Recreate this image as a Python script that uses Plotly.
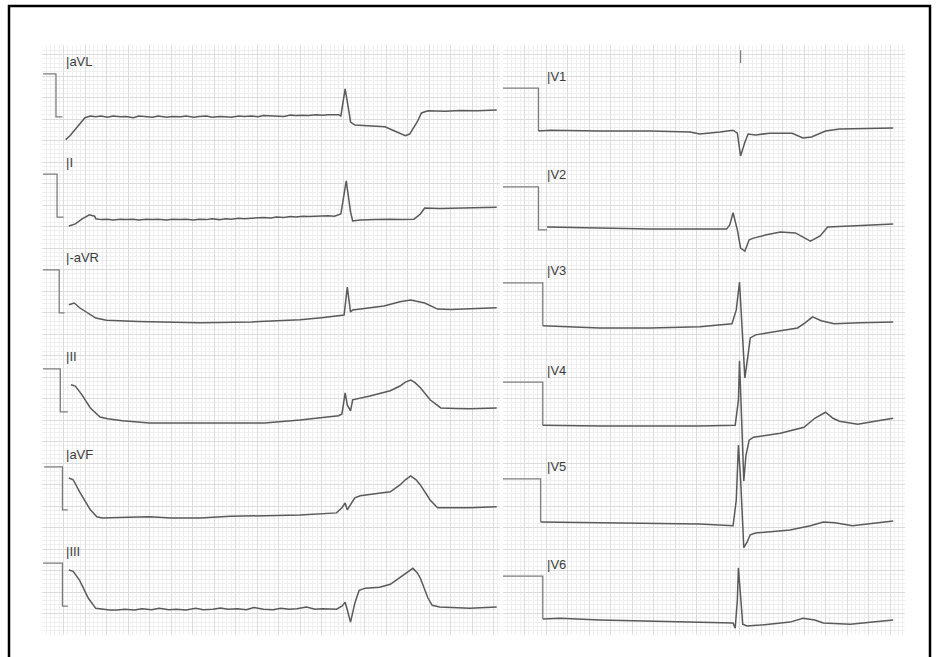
import plotly.graph_objects as go

# ---------------- data (time in s, amplitude in mV) ----------------
LEFT_LEADS = ["aVL", "I", "-aVR", "II", "aVF", "III"]
RIGHT_LEADS = ["V1", "V2", "V3", "V4", "V5", "V6"]

# calibration pulses (1 mV)
CAL_V = [1, 1, 0, 0]
CAL_T = {
    "aVL": [0.01, 0.13, 0.13, 0.19],
    "I": [0.01, 0.14, 0.14, 0.20],
    "-aVR": [0.01, 0.16, 0.16, 0.21],
    "II": [0.01, 0.17, 0.17, 0.24],
    "aVF": [0.02, 0.19, 0.19, 0.24],
    "III": [0.01, 0.19, 0.19, 0.24],
    "V1": [0.0, 0.33, 0.33, 0.33],
    "V2": [0.0, 0.33, 0.33, 0.41],
    "V3": [0.0, 0.37, 0.37, 0.37],
    "V4": [0.0, 0.37, 0.37, 0.37],
    "V5": [0.0, 0.35, 0.35, 0.35],
    "V6": [0.0, 0.37, 0.37, 0.37],
}

AVL_T = [0.22, 0.26, 0.32, 0.40, 0.45,
         0.50, 0.55, 0.61, 0.66, 0.73, 0.78, 0.85, 0.90, 0.97, 1.03, 1.08, 1.16, 1.21, 1.29,
         1.34, 1.41, 1.46, 1.53, 1.58, 1.65, 1.71, 1.76, 1.83, 1.88, 1.95, 2.01, 2.06, 2.13,
         2.18, 2.25, 2.31, 2.36, 2.43, 2.48, 2.55, 2.61, 2.66, 2.72,
         2.76, 2.78, 2.82, 2.86, 2.87, 2.91, 3.00, 3.10, 3.19, 3.28, 3.38, 3.42, 3.49, 3.53,
         3.59, 3.75, 3.89, 4.05, 4.23]
AVL_V = [-0.53, -0.44, -0.26, -0.02, 0.02,
         0.00, 0.02, -0.01, 0.02, 0.00, 0.01, -0.02, 0.02, 0.00, -0.01, 0.02, -0.01, 0.01, 0.00,
         0.02, -0.01, 0.01, 0.02, -0.01, 0.01, 0.00, -0.01, 0.02, 0.01, 0.02, 0.00, 0.03, 0.02,
         0.03, 0.01, 0.04, 0.03, 0.04, 0.03, 0.05, 0.04, 0.05, 0.05,
         0.05, 0.02, 0.65, 0.05, -0.12, -0.19, -0.20, -0.22, -0.23, -0.33, -0.44, -0.40, -0.12, 0.09,
         0.14, 0.13, 0.15, 0.14, 0.16]

I_T = [0.25, 0.31, 0.37, 0.44, 0.49,
       0.50, 0.55, 0.61, 0.66, 0.73, 0.78, 0.85, 0.90, 0.97, 1.03, 1.08, 1.16, 1.21, 1.29,
       1.34, 1.41, 1.46, 1.53, 1.58, 1.65, 1.71, 1.76, 1.83, 1.88, 1.95, 2.01, 2.06, 2.13,
       2.18, 2.25, 2.31, 2.36, 2.43, 2.48, 2.55, 2.61, 2.66, 2.72,
       2.78, 2.83, 2.87, 2.89, 2.96, 3.10, 3.24, 3.35, 3.46, 3.52, 3.56, 3.70, 3.89, 4.05, 4.23]
I_V = [-0.21, -0.16, -0.05, 0.05, 0.02,
       -0.04, -0.06, -0.05, -0.07, -0.05, -0.06, -0.05, -0.07, -0.05, -0.06, -0.05, -0.07, -0.05, -0.06,
       -0.05, -0.07, -0.05, -0.06, -0.04, -0.06, -0.04, -0.05, -0.03, -0.04, -0.03, -0.03, -0.01, -0.02,
       0.00, -0.01, 0.01, 0.00, 0.02, 0.01, 0.02, 0.02, 0.03, 0.02,
       0.07, 0.84, 0.12, -0.09, -0.07, -0.06, -0.05, -0.06, -0.05, 0.07, 0.21, 0.20, 0.21, 0.22, 0.23]

AVR_T = [0.25, 0.30, 0.35, 0.42, 0.50, 0.60, 0.73, 0.90, 1.12, 1.47, 1.95, 2.20, 2.40, 2.60,
         2.76, 2.81, 2.84, 2.87, 2.89, 3.05, 3.18, 3.33, 3.43, 3.56, 3.68, 3.80, 3.98, 4.23]
AVR_V = [0.19, 0.23, 0.12, 0.00, -0.12, -0.17, -0.19, -0.20, -0.21, -0.23, -0.21, -0.19, -0.16, -0.11,
         -0.07, -0.05, 0.60, 0.02, 0.07, 0.12, 0.16, 0.26, 0.30, 0.23, 0.09, 0.08, 0.09, 0.12]

II_T = [0.27, 0.31, 0.37, 0.45, 0.54, 0.61, 0.75, 1.00, 1.50, 2.07, 2.40, 2.76, 2.79, 2.82, 2.84,
        2.87, 2.89, 2.93, 3.05, 3.24, 3.33, 3.38, 3.43, 3.47, 3.52, 3.61, 3.71, 3.85, 3.98, 4.23]
II_V = [0.63, 0.60, 0.40, 0.09, -0.12, -0.16, -0.21, -0.26, -0.26, -0.26, -0.19, -0.09, -0.05, 0.44, 0.16,
        0.02, 0.28, 0.30, 0.37, 0.49, 0.60, 0.69, 0.74, 0.68, 0.56, 0.28, 0.09, 0.08, 0.07, 0.09]

AVF_T = [0.25, 0.29, 0.35, 0.45, 0.51, 0.56, 0.80, 1.00, 1.20, 1.47, 1.75, 2.03, 2.40, 2.74, 2.79,
         2.82, 2.84, 2.87, 2.91, 2.96, 3.10, 3.24, 3.33, 3.38, 3.43, 3.48, 3.52, 3.61, 3.68, 3.85,
         3.98, 4.23]
AVF_V = [0.74, 0.70, 0.42, 0.00, -0.16, -0.19, -0.17, -0.16, -0.19, -0.19, -0.15, -0.14, -0.12, -0.07, 0.05,
         0.16, 0.00, 0.12, 0.28, 0.33, 0.37, 0.42, 0.58, 0.70, 0.79, 0.70, 0.58, 0.23, 0.05, 0.05,
         0.05, 0.07]

III_T = [0.25, 0.29, 0.35, 0.43, 0.50, 0.63,
         0.70, 0.77, 0.86, 0.93, 1.02, 1.09, 1.18, 1.25, 1.34, 1.43, 1.50, 1.59, 1.66, 1.73, 1.82,
         1.90, 1.97, 2.06, 2.15, 2.22, 2.30, 2.37, 2.46, 2.54, 2.61, 2.70,
         2.74, 2.79, 2.82, 2.84, 2.87, 2.91, 2.95, 3.01, 3.14, 3.24, 3.35, 3.40, 3.45, 3.49, 3.52,
         3.59, 3.63, 3.70, 3.85, 3.98, 4.23]
III_V = [0.84, 0.81, 0.60, 0.19, -0.05, -0.09,
         -0.09, -0.07, -0.09, -0.06, -0.08, -0.05, -0.08, -0.07, -0.09, -0.05, -0.08, -0.07, -0.04, -0.07, -0.06,
         -0.08, -0.03, -0.07, -0.08, -0.05, -0.07, -0.06, -0.02, -0.07, -0.06, -0.07,
         -0.07, 0.00, 0.09, -0.09, -0.37, 0.07, 0.37, 0.42, 0.44, 0.51, 0.70, 0.80, 0.88, 0.78, 0.65,
         0.19, 0.02, -0.02, -0.04, -0.05, -0.02]

V1_T = [0.33, 0.44, 0.90, 1.37, 1.74, 1.83, 2.02, 2.14, 2.18, 2.21, 2.25, 2.28, 2.35, 2.48, 2.69,
        2.79, 2.87, 3.00, 3.13, 3.63]
V1_V = [0.00, 0.02, 0.00, 0.00, -0.02, -0.07, -0.02, 0.02, -0.05, -0.58, -0.26, -0.07, -0.09, -0.05, -0.05,
        -0.16, -0.14, 0.00, 0.05, 0.07]

V2_T = [0.41, 0.90, 1.37, 2.08, 2.11, 2.14, 2.18, 2.21, 2.25, 2.29, 2.33, 2.44, 2.58, 2.72, 2.86,
        2.95, 3.02, 3.23, 3.63]
V2_V = [0.07, 0.05, 0.02, 0.02, 0.12, 0.40, 0.00, -0.42, -0.49, -0.23, -0.19, -0.12, -0.05, -0.07, -0.26,
        -0.14, 0.07, 0.09, 0.14]

V3_T = [0.37, 0.90, 1.37, 1.83, 2.13, 2.17, 2.20, 2.21, 2.23, 2.25, 2.28, 2.30, 2.35, 2.58, 2.74,
        2.81, 2.88, 2.96, 3.08, 3.32, 3.63]
V3_V = [0.00, -0.05, -0.05, -0.02, 0.05, 0.37, 1.02, 0.60, -0.33, -1.21, -0.67, -0.28, -0.21, -0.12, -0.05,
        0.07, 0.21, 0.12, 0.05, 0.07, 0.09]

V4_T = [0.37, 0.90, 1.83, 2.16, 2.19, 2.20, 2.22, 2.24, 2.26, 2.29, 2.33, 2.58, 2.80, 2.90, 3.00,
        3.07, 3.13, 3.30, 3.46, 3.63]
V4_V = [0.00, -0.02, -0.02, 0.00, 0.58, 1.50, 0.12, -1.30, -0.70, -0.35, -0.28, -0.19, -0.05, 0.16, 0.30,
        0.16, 0.09, 0.02, 0.09, 0.16]

V5_T = [0.35, 0.90, 1.83, 2.14, 2.17, 2.19, 2.21, 2.24, 2.27, 2.30, 2.35, 2.67, 2.86, 2.98, 3.09,
        3.25, 3.41, 3.63]
V5_V = [0.00, -0.02, -0.05, -0.09, 0.51, 1.79, 1.00, -0.60, -0.47, -0.30, -0.26, -0.19, -0.09, 0.00, -0.02,
        -0.09, -0.05, 0.02]

V6_T = [0.37, 0.53, 0.90, 1.83, 2.14, 2.16, 2.18, 2.19, 2.21, 2.23, 2.27, 2.39, 2.67, 2.79, 2.90,
        2.98, 3.23, 3.41, 3.63]
V6_V = [0.00, 0.02, -0.02, -0.07, -0.09, -0.21, 0.44, 1.19, 0.44, -0.12, -0.16, -0.14, -0.07, 0.02, -0.02,
        -0.09, -0.12, -0.07, -0.02]

TRACE_T = {"aVL": AVL_T, "I": I_T, "-aVR": AVR_T, "II": II_T, "aVF": AVF_T, "III": III_T,
           "V1": V1_T, "V2": V2_T, "V3": V3_T, "V4": V4_T, "V5": V5_T, "V6": V6_T}
TRACE_V = {"aVL": AVL_V, "I": I_V, "-aVR": AVR_V, "II": II_V, "aVF": AVF_V, "III": III_V,
           "V1": V1_V, "V2": V2_V, "V3": V3_V, "V4": V4_V, "V5": V5_V, "V6": V6_V}

# small timing mark at top of the chest-lead strip
MARK_T = [2.21, 2.21]
MARK_Y = [13.30, 13.60]

# ---------------- layout constants (positions, styles) ----------------
W, H = 936, 657
LEFT_OFFSET = [12.05, 9.72, 7.49, 5.19, 2.91, 0.67]   # baseline of each row
RIGHT_OFFSET = [11.72, 9.42, 7.19, 4.88, 2.63, 0.37]
LABEL_DY = 1.28
LEFT_LABEL_T = 0.20
RIGHT_LABEL_T = 0.39

TRACE_COLOR = "#5a5a5a"
CAL_COLOR = "#7d7d7d"
LABEL_COLOR = "#3c3c3c"
GRID_MAJOR = "#dcdcdc"
GRID_MINOR = "#efefef"

fig = go.Figure()


def add_lead(name, off, xa, ya):
    fig.add_trace(go.Scatter(x=CAL_T[name], y=[off + v for v in CAL_V], xaxis=xa, yaxis=ya,
                             mode="lines", line=dict(color=CAL_COLOR, width=1.3),
                             hoverinfo="skip", showlegend=False))
    fig.add_trace(go.Scatter(x=TRACE_T[name], y=[off + v for v in TRACE_V[name]], xaxis=xa, yaxis=ya,
                             mode="lines", line=dict(color=TRACE_COLOR, width=1.5),
                             name=name, showlegend=False))


annotations = []
for name, off in zip(LEFT_LEADS, LEFT_OFFSET):
    add_lead(name, off, "x", "y")
    annotations.append(dict(x=LEFT_LABEL_T, y=off + LABEL_DY, xref="x", yref="y", text="|" + name,
                            showarrow=False, xanchor="left", yanchor="middle",
                            font=dict(family="Liberation Sans, Arial", size=13, color=LABEL_COLOR)))
for name, off in zip(RIGHT_LEADS, RIGHT_OFFSET):
    add_lead(name, off, "x2", "y2")
    annotations.append(dict(x=RIGHT_LABEL_T, y=off + LABEL_DY, xref="x2", yref="y2", text="|" + name,
                            showarrow=False, xanchor="left", yanchor="middle",
                            font=dict(family="Liberation Sans, Arial", size=13, color=LABEL_COLOR)))

fig.add_trace(go.Scatter(x=MARK_T, y=MARK_Y, xaxis="x2", yaxis="y2", mode="lines",
                         line=dict(color=CAL_COLOR, width=1.2), hoverinfo="skip", showlegend=False))

PX_PER_S = 107.5
PX_PER_MV = 43.0
Y_DOMAIN = [(H - 635) / H, (H - 45) / H]
Y_RANGE = [0, 590 / PX_PER_MV]


def xax(domain, width_px):
    return dict(domain=domain, range=[0, width_px / PX_PER_S], showticklabels=False, ticks="",
                showgrid=True, gridcolor=GRID_MAJOR, gridwidth=1, dtick=0.2, tick0=0,
                minor=dict(dtick=0.04, tick0=0, showgrid=True, gridcolor=GRID_MINOR, gridwidth=1),
                zeroline=False, showline=False, fixedrange=True, layer="below traces")


def yax(anchor):
    return dict(domain=Y_DOMAIN, range=Y_RANGE, anchor=anchor, showticklabels=False, ticks="",
                showgrid=True, gridcolor=GRID_MAJOR, gridwidth=1, dtick=0.5, tick0=0,
                minor=dict(dtick=0.1, tick0=0, showgrid=True, gridcolor=GRID_MINOR, gridwidth=1),
                zeroline=False, showline=False, fixedrange=True, layer="below traces")


fx0, fx1, fy = 9 / W, 930 / W, (H - 6) / H
fig.update_layout(
    width=W, height=H, margin=dict(l=0, r=0, t=0, b=0),
    paper_bgcolor="white", plot_bgcolor="white",
    xaxis=dict(xax([42 / W, 500 / W], 458), anchor="y"),
    yaxis=yax("x"),
    xaxis2=dict(xax([503 / W, 905 / W], 402), anchor="y2"),
    yaxis2=yax("x2"),
    annotations=annotations,
    shapes=[dict(type="path", xref="paper", yref="paper",
                 path=f"M {fx0},-0.05 L {fx0},{fy} L {fx1},{fy} L {fx1},-0.05",
                 line=dict(color="black", width=2.5))],
    showlegend=False,
)

fig.write_html("out.html", config={"displayModeBar": False},
               post_script="document.body.style.margin='0';document.body.style.overflow='hidden';")
